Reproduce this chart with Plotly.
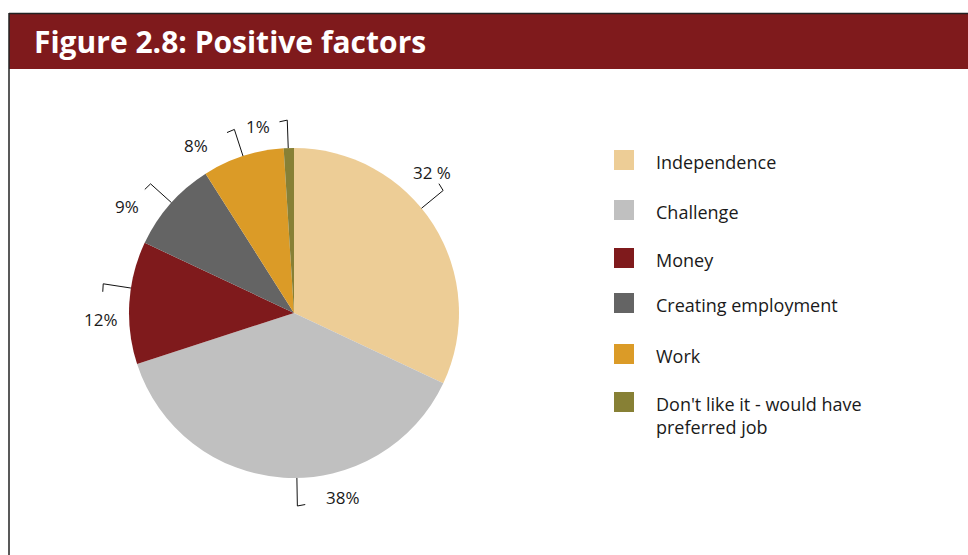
import math
import plotly.graph_objects as go

# ---------------- data ----------------
categories = ["Independence", "Challenge", "Money", "Creating employment",
              "Work", "Don't like it - would have preferred job"]
legend_labels = ["Independence", "Challenge", "Money", "Creating employment",
                 "Work", "Don't like it - would have<br>preferred job"]
values = [32, 38, 12, 9, 8, 1]
value_labels = ["32 %", "38%", "12%", "9%", "8%", "1%"]
colors = ["#EDCD96", "#C0C0C0", "#7F1A1C", "#646464", "#DB9B27", "#878035"]
title_text = "Figure 2.8: Positive factors"

# ---------------- layout config ----------------
W, H = 968, 555
CX, CY, R = 294, 313, 165
edge_nudge = [-7, -4.6, 5.1, 0.6, 0, -0.2]         # degrees, leader anchor on pie
label_nudge = [-13.2, -18.6, -5.6, -8.8, -12.4, -9.2]  # degrees, label position
label_r = [197, 191, 193, 198, 194, 190]
elbow_r = R + 28
legend_y = [160, 210, 258, 303, 354, 402]
FONT = "Open Sans"
TXT = "#1a1a1a"


def px(x):
    return x / W


def py(y):
    return 1 - y / H


fig = go.Figure()
fig.add_trace(go.Pie(
    labels=categories, values=values, sort=False, direction="clockwise",
    rotation=0, marker=dict(colors=colors, line=dict(width=0)),
    textinfo="none", hoverinfo="label+percent", showlegend=False,
    domain=dict(x=[px(CX - R), px(CX + R)], y=[py(CY + R), py(CY - R)]),
))

shapes = []
annotations = []

# header bar
shapes.append(dict(type="rect", xref="paper", yref="paper",
                   x0=px(9), x1=1.0, y0=py(69), y1=py(13),
                   fillcolor="#7F1A1C", line=dict(width=0), layer="below"))
shapes.append(dict(type="line", xref="paper", yref="paper",
                   x0=px(9), x1=1.0, y0=py(13.5), y1=py(13.5),
                   line=dict(color="#222222", width=1.5)))
shapes.append(dict(type="line", xref="paper", yref="paper",
                   x0=px(9), x1=px(9), y0=py(13), y1=0,
                   line=dict(color="#222222", width=1.5)))
annotations.append(dict(text="<b>" + title_text + "</b>", xref="paper", yref="paper",
                        x=px(32), y=py(41), xanchor="left", yanchor="middle",
                        showarrow=False, font=dict(family=FONT, size=30, color="white")))

# data labels with leader lines
total = sum(values)
cum = 0
for i, v in enumerate(values):
    mid = (cum + v / 2) / total * 360
    cum += v
    te = math.radians(mid + edge_nudge[i])
    tl = math.radians(mid + label_nudge[i])
    ex, ey = CX + R * math.sin(te), CY - R * math.cos(te)
    bx, by = CX + elbow_r * math.sin(te), CY - elbow_r * math.cos(te)
    lx, ly = CX + label_r[i] * math.sin(tl), CY - label_r[i] * math.cos(tl)
    d = math.hypot(lx - bx, ly - by)
    tx, ty = bx + 8 * (lx - bx) / d, by + 8 * (ly - by) / d
    shapes.append(dict(type="path", xref="paper", yref="paper",
                       path=f"M {px(ex)} {py(ey)} L {px(bx)} {py(by)} L {px(tx)} {py(ty)}",
                       line=dict(color="#111111", width=1)))
    annotations.append(dict(text=value_labels[i], xref="paper", yref="paper",
                            x=px(lx), y=py(ly), xanchor="center", yanchor="middle",
                            showarrow=False, font=dict(family=FONT, size=17, color=TXT)))

# legend
for i, lab in enumerate(legend_labels):
    yc = legend_y[i]
    shapes.append(dict(type="rect", xref="paper", yref="paper",
                       x0=px(614), x1=px(634), y0=py(yc + 10), y1=py(yc - 10),
                       fillcolor=colors[i], line=dict(width=0)))
    annotations.append(dict(text=lab, xref="paper", yref="paper",
                            x=px(654), y=py(yc - 12), xanchor="left", yanchor="top",
                            align="left", showarrow=False,
                            font=dict(family=FONT, size=18, color=TXT)))

fig.update_layout(
    width=W, height=H, margin=dict(l=0, r=0, t=0, b=0),
    paper_bgcolor="white", plot_bgcolor="white",
    shapes=shapes, annotations=annotations, showlegend=False,
)
fig.write_html("out.html", config={"displayModeBar": False},
               post_script="document.body.style.margin='0px';document.body.style.padding='0px';")
